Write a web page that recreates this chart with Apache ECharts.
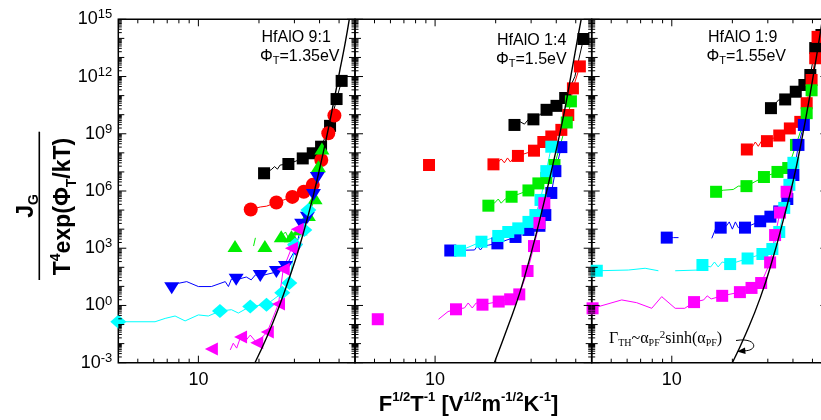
<!DOCTYPE html>
<html><head><meta charset="utf-8">
<script src="https://cdn.jsdelivr.net/npm/echarts@6/dist/echarts.min.js"></script>
<style>html,body{margin:0;padding:0;background:#fff}#c{width:821px;height:420px}</style>
</head><body><div id="c"></div>
<script>
// ---------- data ----------
const panelTitles = ['HfAlO 9:1', 'HfAlO 1:4', 'HfAlO 1:9'];
const phiValues = ['=1.35eV', '=1.5eV', '=1.55eV'];
const xLabelTicks = [10];
const xMinorTicks = [5, 6, 7, 8, 9, 20, 30, 40, 50];
const yLabelTicks = [1e-3, 1, 1e3, 1e6, 1e9, 1e12, 1e15];
const yDecadeTicks = [1e-3,1e-2,1e-1,1,1e1,1e2,1e3,1e4,1e5,1e6,1e7,1e8,1e9,1e10,1e11,1e12,1e13,1e14,1e15];
const minorMultipliers = [2, 3, 4, 5, 6, 7, 8, 9];

// panel 1 (HfAlO 9:1)
const p1Black = [[21.2,8.5e6],[28.0,2.6e7],[33.0,5.1e7],[37.0,9.5e7],[40.7,2.1e8],[45.1,2.6e9],[48.6,6.6e10],[51.5,5.9e11]];
const p1BlackW = [[23.0,1.3e7],[23.9,1.9e7],[24.7,1.4e7],[25.5,2.3e7]];
const p1Red = [[18.2,1.07e5],[24.4,2.5e5],[29.3,4.9e5],[33.4,9.2e5],[37.0,2.1e6],[40.8,4.2e7],[44.2,1.07e9],[47.4,9.1e9]];
const p1RedW = [[20.3,1.45e5],[21.8,1.6e5]];
const p1Green = [[15.2,1.3e3],[21.4,1.3e3],[25.8,4.2e3],[29.0,4.3e3],[32.0,1.0e4],[35.2,5.6e4],[38.0,4.2e5],[39.5,2.0e7],[41.1,1.7e8]];
const p1GreenW = [[17.0,'-'],[18.8,1.3e3],[19.2,3.5e3],[20.0,'-'],[23.0,'-'],[27.1,7.1e3],[28.0,3.5e3],[30.0,7.1e3],[33.2,1.5e4]];
const p1Blue = [[7.37,7.9],[15.4,22],[20.3,35],[24.4,57],[27.1,105],[30.3,830],[32.6,1.7e4],[34.8,4.0e4],[37.3,6.2e5],[39.0,4.8e6]];
const p1BlueW = [[7.96,14.5],[8.75,17.8],[10.0,9.8],[11.6,9.8],[13.6,17.8],[14.1,9.8],[14.6,24.5],[17.3,31],[18.3,22],[19.2,40]];
const p1Cyan = [[4.0,0.14],[12.8,0.51],[18.1,0.89],[21.8,1.1],[26.1,4.6],[28.3,15],[30.2,1.5e3],[33.6,9.1e3],[35.2,1.0e5]];
const p1CyanW = [[6.09,0.14],[6.84,0.21],[7.66,0.28],[8.59,0.155],[10.0,0.32],[11.2,0.28],[14.6,0.6],[15.8,0.4]];
const p1Mag = [[11.6,5.2e-3],[16.2,0.022],[19.5,0.011],[22.0,0.041],[25.0,1.2],[26.4,80],[29.0,1.0e3],[31.0,1.0e4]];
const p1MagW = [[13.0,'-'],[14.4,4.7e-3],[14.9,0.0105],[15.5,5.8e-3],[17.3,0.0155],[18.1,0.028]];
const p1Curve = [[19.1,1e-3],[22.0,0.025],[25.3,1.0],[28.2,25],[31.4,790],[35.9,1.26e5],[39.5,7.9e6],[43.4,7.1e8],[46.9,4.0e10],[50.6,2.5e12],[53.5,5.0e13],[56.2,1e15]];

// panel 2 (HfAlO 1:4)
const p2Black = [[24.8,2.9e9],[30.8,5.7e9],[35.8,1.8e10],[40.1,2.9e10],[44.3,7.5e10],[54.6,9.3e13]];
const p2BlackW = [[26.5,4.2e9],[27.8,3.2e9],[29.1,5.7e9],[49.5,1.0e12]];
const p2Red = [[9.33,2.3e7],[19.5,2.5e7],[25.8,6.9e7],[31.0,1.3e8],[34.5,3.7e8],[37.8,7.2e8],[42.4,1.6e9],[45.9,9.6e9],[48.4,2.4e11],[52.4,3.4e12]];
const p2RedW = [[15.0,'-'],[20.6,3.3e7],[21.3,4.8e7],[22.1,3.0e7],[22.9,5.4e7],[23.7,3.3e7],[24.5,5.4e7]];
const p2Green = [[18.4,1.7e5],[24.0,5.0e5],[29.1,1.07e6],[32.6,2.5e6],[35.7,4.8e6],[39.2,2.3e7],[45.1,3.9e9],[47.3,5.0e10]];
const p2GreenW = [[19.7,2.3e5],[20.6,3.8e5],[21.3,2.3e5],[22.3,3.8e5]];
const p2Blue = [[11.9,760],[20.4,1.8e3],[25.1,3.9e3],[29.1,9.1e3],[33.0,1.5e4],[35.3,5.5e4],[37.8,7.9e5],[39.6,1.1e7],[42.4,2.0e8]];
const p2BlueW = [[15.7,810],[16.2,1.3e3],[16.8,810],[17.4,1.3e3],[18.4,1.45e3]];
const p2Cyan = [[13.3,740],[17.0,2.2e3],[20.6,4.4e3],[23.1,7.1e3],[25.9,1.1e4],[29.1,2.4e4],[31.5,5.5e4],[33.4,3.4e5],[35.7,1.1e7],[37.8,2.1e8]];
const p2CyanW = [];
const p2Mag = [[5.19,0.19],[12.7,0.63],[17.2,1.1],[20.7,1.6],[23.6,2.1],[26.2,3.8],[28.8,64],[31.0,1.3e3],[33.0,2.1e4],[34.9,2.3e5]];
const p2MagW = [[8.0,'-'],[10.4,0.19],[11.6,0.48],[14.0,0.74],[14.6,1.35],[15.3,0.74],[16.0,1.35]];
const p2Curve = [[19.7,1e-3],[23.1,0.089],[26.4,5.0],[30.2,710],[34.5,1.8e5],[38.7,3.2e7],[43.4,7.9e9],[47.7,1.8e12],[51.5,1.6e14],[53.2,1e15]];

// panel 3 (HfAlO 1:9)
const p3Black = [[31.1,2.2e10],[36.6,6.3e10],[41.3,1.6e11],[45.6,3.6e11],[48.8,1.2e12],[51.6,3.1e13],[55.4,1.5e14]];
const p3BlackW = [[32.3,3.2e10],[33.9,5.9e10]];
const p3Red = [[23.6,1.5e8],[29.7,4.1e8],[34.2,8.1e8],[38.6,1.9e9],[43.5,4.2e9],[46.8,4.0e10],[49.5,6.6e11],[51.6,9.1e12],[53.0,1.2e14]];
const p3RedW = [[25.1,2.0e8],[26.0,3.7e8],[26.9,2.2e8],[27.9,4.1e8]];
const p3Green = [[16.6,9.1e5],[23.5,1.8e6],[28.7,5.4e6],[33.5,1.0e7],[37.9,1.6e7],[41.4,2.6e8],[46.8,1.2e10],[49.5,1.9e11]];
const p3GreenW = [[18.0,1.1e6],[20.2,1.2e6],[21.4,1.8e6],[22.4,1.8e6]];
const p3Blue = [[9.44,3.6e3],[17.5,1.2e4],[23.1,1.2e4],[27.5,2.6e4],[30.9,4.5e4],[34.2,8.5e4],[37.5,3.8e5],[40.2,6.9e6],[42.6,2.6e8],[45.3,2.9e9]];
const p3BlueW = [[10.2,3.6e3],[10.8,3.6e3],[13.0,'-'],[15.8,3.3e3],[16.6,1.2e4],[18.7,1.5e4],[19.3,2.4e4],[20.0,1.0e4],[20.7,2.4e4],[21.4,1.2e4]];
const p3Cyan = [[4.24,66],[14.2,132],[19.5,148],[23.8,290],[28.2,500],[31.6,910],[34.2,7.1e3],[36.2,1.3e5],[38.4,2.1e6],[40.2,3.0e7]];
const p3CyanW = [[6.08,72],[7.37,89],[8.58,66],[9.3,'-'],[10.4,66],[13.6,72],[15.6,105],[16.3,190],[17.0,105],[17.8,190]];
const p3Mag = [[4.04,0.71],[12.9,1.5],[17.8,3.2],[21.8,5.0],[24.9,8.3],[27.8,15],[30.8,180],[32.6,4.9e3],[34.5,7.4e4],[37.2,9.1e5]];
const p3MagW = [[5.64,1.95],[6.69,1.4],[7.95,0.71],[8.91,2.9],[10.4,0.71],[11.6,0.71],[14.4,1.95],[15.0,3.2],[15.7,2.2]];
const p3Curve = [[20.0,1e-3],[23.3,0.032],[27.5,2.5],[31.6,240],[35.8,3.0e4],[40.2,3.8e6],[44.2,4.7e8],[48.0,5.2e10],[52.3,1.05e13],[56.0,1e15]];

// ---------- layout & style ----------
const X_MIN = 4, X_MAX = 60, Y_MIN = 1e-3, Y_MAX = 1e15;
const L = { top: 19.3, height: 343.4, width: 236.7, lefts: [118.3, 355, 591.7] };
const colors = ['#000000', '#ff0000', '#00ee00', '#0000ff', '#00ffff', '#ff00ff'];
const p1Sym = [
  { symbol: 'rect', rot: 0, size: [12, 12] },
  { symbol: 'circle', rot: 0, size: [14, 14] },
  { symbol: 'triangle', rot: 0, size: [15, 12] },
  { symbol: 'triangle', rot: 180, size: [15, 12] },
  { symbol: 'diamond', rot: 0, size: [16, 14] },
  { symbol: 'triangle', rot: 90, size: [13, 13] }
];
const sqSym = { symbol: 'rect', rot: 0, size: [12, 12] };
const FONT = 'Liberation Sans';

const panels = [
  { marks: [p1Black, p1Red, p1Green, p1Blue, p1Cyan, p1Mag], wig: [p1BlackW, p1RedW, p1GreenW, p1BlueW, p1CyanW, p1MagW], curve: p1Curve },
  { marks: [p2Black, p2Red, p2Green, p2Blue, p2Cyan, p2Mag], wig: [p2BlackW, p2RedW, p2GreenW, p2BlueW, p2CyanW, p2MagW], curve: p2Curve },
  { marks: [p3Black, p3Red, p3Green, p3Blue, p3Cyan, p3Mag], wig: [p3BlackW, p3RedW, p3GreenW, p3BlueW, p3CyanW, p3MagW], curve: p3Curve }
];

// tick list (positions on the axes; drawn through the axes' own scales)
const yTicks = [];
yDecadeTicks.forEach(v => {
  const e = Math.round(Math.log10(v));
  yTicks.push({ v: v, len: (e % 3 === 0) ? 8 : 6 });
});
yDecadeTicks.slice(0, -1).forEach(d => minorMultipliers.forEach(k => yTicks.push({ v: k * d, len: 3.5 })));
const xTicks = xLabelTicks.map(v => ({ v: v, len: 7 })).concat(xMinorTicks.map(v => ({ v: v, len: 4 })));

function mergeLine(marks, extra) {
  return marks.concat(extra).sort((a, b) => a[0] - b[0]);
}

const grid = L.lefts.map(l => ({
  left: l, top: L.top, width: L.width, height: L.height,
  show: true, borderColor: '#000', borderWidth: 1.5, backgroundColor: 'transparent',
  containLabel: false, outerBoundsMode: 'none'
}));

const xAxis = L.lefts.map((_, i) => ({
  type: 'log', logBase: 10, gridIndex: i, min: X_MIN, max: X_MAX,
  axisLine: { show: false }, axisTick: { show: false }, splitLine: { show: false },
  minorTick: { show: false }, minorSplitLine: { show: false },
  axisLabel: {
    show: true, margin: 8, fontSize: 18, fontFamily: FONT, color: '#000',
    showMinLabel: false, showMaxLabel: false,
    formatter: v => xLabelTicks.some(t => Math.abs(t - v) < 1e-6) ? String(Math.round(v)) : ''
  }
}));

const yAxis = L.lefts.map((_, i) => ({
  type: 'log', logBase: 1000, gridIndex: i, min: Y_MIN, max: Y_MAX,
  axisLine: { show: false }, axisTick: { show: false }, splitLine: { show: false },
  minorTick: { show: false }, minorSplitLine: { show: false },
  axisLabel: {
    show: i === 0, margin: 6,
    formatter: v => '{b|10}{s|' + Math.round(Math.log10(v)) + '}',
    rich: {
      b: { fontSize: 18, fontFamily: FONT, color: '#000', lineHeight: 22 },
      s: { fontSize: 13, fontFamily: FONT, color: '#000', lineHeight: 13, verticalAlign: 'top' }
    }
  }
}));

const series = [];
panels.forEach((p, i) => {
  p.marks.forEach((m, k) => {
    series.push({
      type: 'line', xAxisIndex: i, yAxisIndex: i, data: mergeLine(m, p.wig[k]),
      symbol: 'none', showSymbol: false, connectNulls: false, silent: true,
      lineStyle: { color: colors[k], width: 1 }, z: 2
    });
  });
  p.marks.forEach((m, k) => {
    const s = i === 0 ? p1Sym[k] : sqSym;
    series.push({
      type: 'scatter', xAxisIndex: i, yAxisIndex: i, data: m,
      symbol: s.symbol, symbolRotate: s.rot, symbolSize: s.size, silent: true,
      itemStyle: { color: colors[k], opacity: 1 }, z: 3
    });
  });
  series.push({
    type: 'line', xAxisIndex: i, yAxisIndex: i, data: p.curve,
    symbol: 'none', showSymbol: false, smooth: 0.5, silent: true,
    lineStyle: { color: '#000', width: 1.4 }, z: 4
  });
  series.push({
    type: 'custom', xAxisIndex: i, yAxisIndex: i, data: [[10, 1]], silent: true, z: 6,
    renderItem: (params, api) => {
      const bl = api.coord([X_MIN, Y_MIN]), tr = api.coord([X_MAX, Y_MAX]);
      const ch = [];
      const ln = (x1, y1, x2, y2) => ({ type: 'line', shape: { x1, y1, x2, y2 }, style: { stroke: '#000', lineWidth: 1 } });
      yTicks.forEach(t => {
        const y = api.coord([10, t.v])[1];
        ch.push(ln(bl[0], y, bl[0] + t.len, y), ln(tr[0], y, tr[0] - t.len, y));
      });
      xTicks.forEach(t => {
        const x = api.coord([t.v, 1])[0];
        ch.push(ln(x, bl[1], x, bl[1] - t.len), ln(x, tr[1], x, tr[1] + t.len));
      });
      return { type: 'group', children: ch };
    }
  });
});

// ---------- texts ----------
const textPos = [[261.5, 37.5, 260, 57], [497, 40.5, 496, 60], [708, 37.5, 706.5, 57]];
const graphic = [];
panelTitles.forEach((t, i) => {
  graphic.push({
    type: 'text', x: textPos[i][0], y: textPos[i][1], z: 100,
    style: { text: t, font: '16px "' + FONT + '"', fill: '#000', align: 'left', verticalAlign: 'middle', textAlign: 'left', textVerticalAlign: 'middle' }
  });
  graphic.push({
    type: 'text', x: textPos[i][2], y: textPos[i][3], z: 100,
    style: {
      text: '{n|Φ}{s|T}{n|' + phiValues[i] + '}', align: 'left', verticalAlign: 'middle', textAlign: 'left', textVerticalAlign: 'middle',
      rich: {
        n: { fontSize: 16, fontFamily: FONT, fill: '#000', lineHeight: 18 },
        s: { fontSize: 11, fontFamily: FONT, fill: '#000', lineHeight: 8, verticalAlign: 'bottom' }
      }
    }
  });
});
// y-axis title (fraction)
graphic.push({
  type: 'text', x: 27, y: 206, rotation: Math.PI / 2, z: 100,
  style: {
    text: '{b|J}{s|G}', align: 'center', verticalAlign: 'middle', textAlign: 'center', textVerticalAlign: 'middle',
    rich: {
      b: { fontSize: 23, fontWeight: 'bold', fontFamily: FONT, fill: '#000', lineHeight: 28 },
      s: { fontSize: 14, fontWeight: 'bold', fontFamily: FONT, fill: '#000', lineHeight: 12, verticalAlign: 'bottom' }
    }
  }
});
graphic.push({ type: 'line', z: 100, shape: { x1: 39.3, y1: 131.7, x2: 39.3, y2: 280 }, style: { stroke: '#000', lineWidth: 1.6 } });
graphic.push({
  type: 'text', x: 64, y: 206.5, rotation: Math.PI / 2, z: 100,
  style: {
    text: '{b|T}{p|4}{b|exp(Φ}{s|T}{b|/kT)}', align: 'center', verticalAlign: 'middle', textAlign: 'center', textVerticalAlign: 'middle',
    rich: {
      b: { fontSize: 23, fontWeight: 'bold', fontFamily: FONT, fill: '#000', lineHeight: 30 },
      p: { fontSize: 14, fontWeight: 'bold', fontFamily: FONT, fill: '#000', lineHeight: 14, verticalAlign: 'top' },
      s: { fontSize: 14, fontWeight: 'bold', fontFamily: FONT, fill: '#000', lineHeight: 12, verticalAlign: 'bottom' }
    }
  }
});
// x-axis title
graphic.push({
  type: 'text', x: 468.5, y: 405, z: 100,
  style: {
    text: '{b|F}{p|1/2}{b|T}{p|-1}{b| [V}{p|1/2}{b|m}{p|-1/2}{b|K}{p|-1}{b|]}',
    align: 'center', verticalAlign: 'middle', textAlign: 'center', textVerticalAlign: 'middle',
    rich: {
      b: { fontSize: 22, fontWeight: 'bold', fontFamily: FONT, fill: '#000', lineHeight: 28 },
      p: { fontSize: 13, fontWeight: 'bold', fontFamily: FONT, fill: '#000', lineHeight: 13, verticalAlign: 'top' }
    }
  }
});
// annotation
graphic.push({
  type: 'text', x: 609, y: 339, z: 100,
  style: {
    text: '{m|Γ}{s|TH}{m|~α}{s|PF}{p|2}{m|sinh(α}{s|PF}{m|)}', align: 'left', verticalAlign: 'middle', textAlign: 'left', textVerticalAlign: 'middle',
    rich: {
      m: { fontSize: 16, fontFamily: 'Liberation Serif', fill: '#000', lineHeight: 18 },
      s: { fontSize: 10, fontFamily: 'Liberation Serif', fill: '#000', lineHeight: 8, verticalAlign: 'bottom' },
      p: { fontSize: 11, fontFamily: 'Liberation Serif', fill: '#000', lineHeight: 8, verticalAlign: 'top' }
    }
  }
});
graphic.push({ type: 'bezierCurve', z: 100, shape: { x1: 736, y1: 340.5, cpx1: 757, cpy1: 337, cpx2: 759, cpy2: 351, x2: 744, y2: 350.8 }, style: { stroke: '#000', lineWidth: 1, fill: null } });
graphic.push({ type: 'polygon', z: 100, shape: { points: [[737, 351.5], [745, 347.6], [745.6, 354]] }, style: { fill: '#000' } });

const chart = echarts.init(document.getElementById('c'), null, { renderer: 'canvas' });
chart.setOption({
  animation: false,
  backgroundColor: '#fff',
  grid, xAxis, yAxis, series, graphic
});
</script></body></html>
